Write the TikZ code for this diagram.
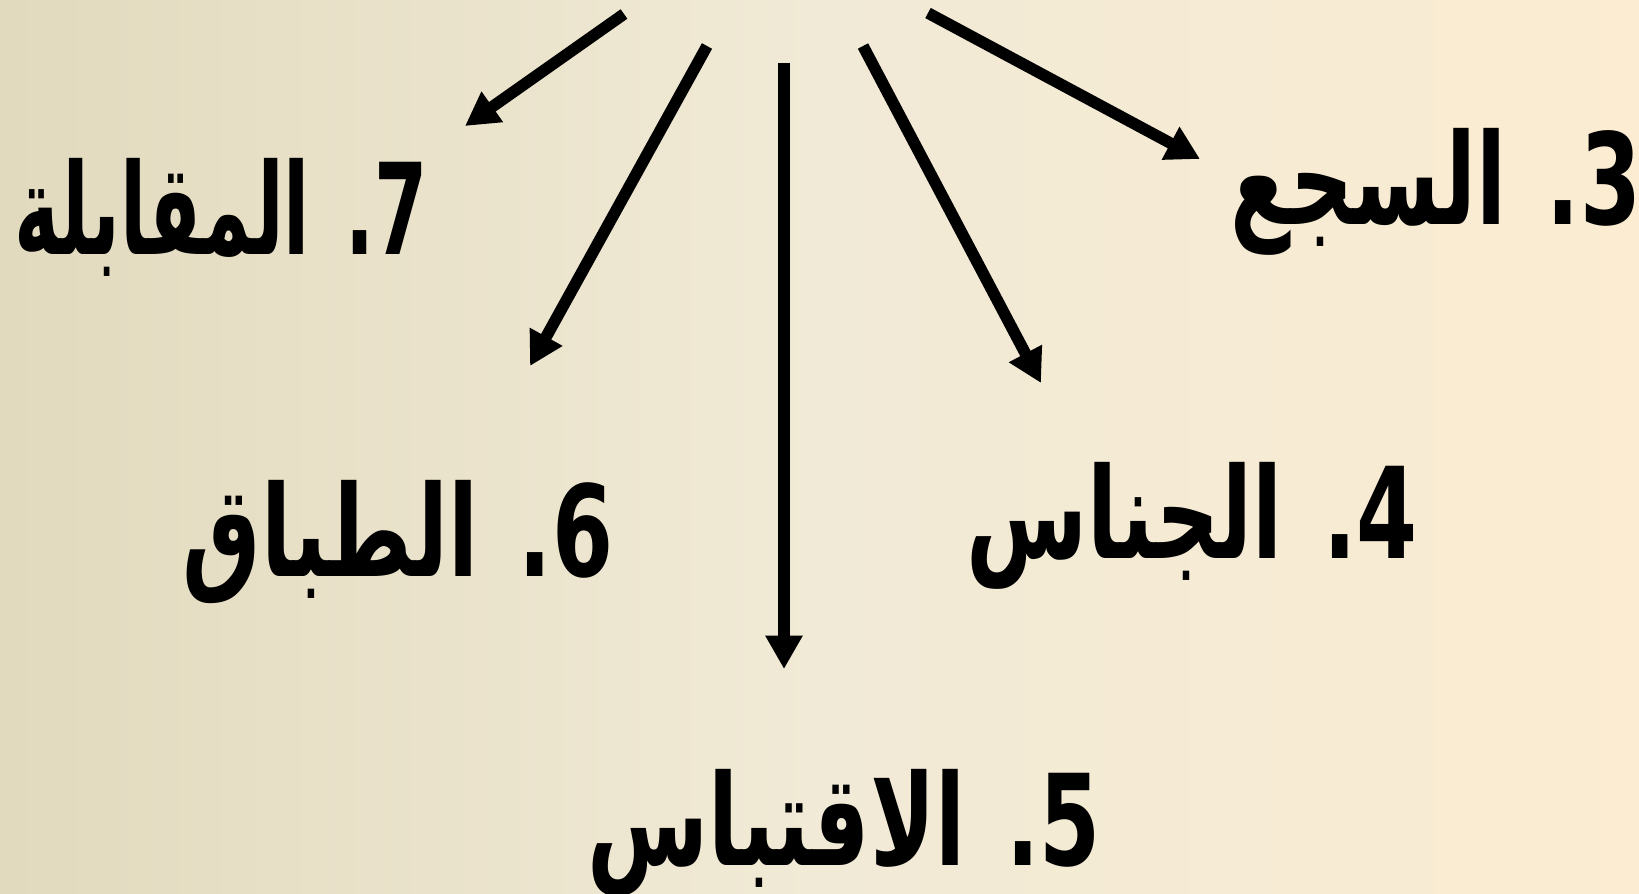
\documentclass[tikz,border=0pt]{standalone}
\usepackage{fontspec}
\usepackage{graphicx}
\newfontfamily\arabicfont[Script=Arabic]{DejaVu Sans}
\TeXXeTstate=1
\usetikzlibrary{arrows.meta}
\definecolor{bgL}{RGB}{226,218,190}
\definecolor{bgM}{RGB}{241,234,214}
\definecolor{bgR}{RGB}{251,236,210}
\newcommand{\arlbl}[2][0.693]{\scalebox{#1}[1]{\arabicfont\bfseries\fontsize{36}{42}\selectfont\beginR #2\endR}}
\tikzset{
  arr/.style={line width=3.3pt, -{Triangle[width=10pt,length=9.5pt]}},
  lbl/.style={inner sep=0pt, anchor=base}
}
\begin{document}
\begin{tikzpicture}[x=0.01cm,y=-0.01cm]
\shade[left color=bgL, right color=bgR, middle color=bgM] (0,0) rectangle (1639,893);
\useasboundingbox (0,0) rectangle (1639,893);
% labels
\node[lbl] (t3) at (1436,224) {\arlbl{3. السجع}};
\node[lbl] (t7) at (221,254) {\arlbl[0.604]{7. المقابلة}};
\node[lbl] (t6) at (398,576) {\arlbl{6. الطباق}};
\node[lbl] (t4) at (1192,558) {\arlbl{4. الجناس}};
\node[lbl] (t5) at (844,865) {\arlbl{5. الاقتباس}};
% arrow endpoints
\coordinate (s7) at (624,14);  \coordinate (e7) at (465,126);
\coordinate (s6) at (707,46);  \coordinate (e6) at (530,366);
\coordinate (s5) at (784,63);  \coordinate (e5) at (784,669);
\coordinate (s4) at (863,46);  \coordinate (e4) at (1041,383);
\coordinate (s3) at (928,13);  \coordinate (e3) at (1200,159);
\draw[arr] (s7) -- (e7);
\draw[arr] (s6) -- (e6);
\draw[arr] (s5) -- (e5);
\draw[arr] (s4) -- (e4);
\draw[arr] (s3) -- (e3);
\end{tikzpicture}
\end{document}
